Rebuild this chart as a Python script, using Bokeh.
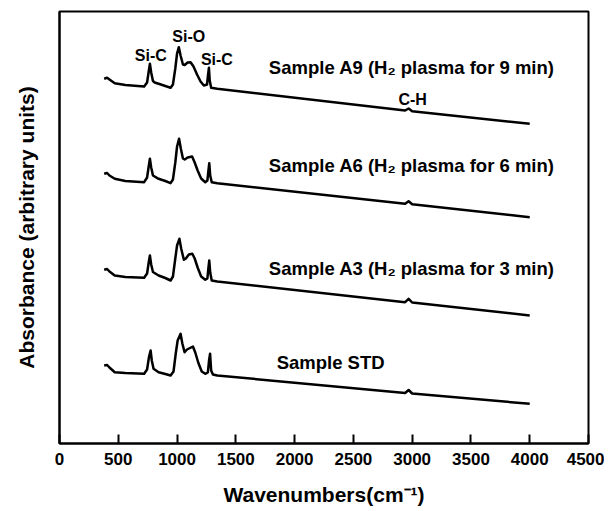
from bokeh.plotting import figure
from bokeh.models import Range1d, FixedTicker, Label
from bokeh.embed import file_html
from bokeh.resources import INLINE

# ---- data (absorbance, arbitrary units, spectra offset) ----
wn_a9 = [380, 405, 425, 470, 560, 720, 745, 760, 769, 780, 795, 810, 843, 900, 945, 965, 985, 1000,
         1015, 1030, 1050, 1065, 1090, 1115, 1140, 1170, 1200, 1228, 1255, 1264, 1271, 1278, 1290,
         1342, 2940, 2970, 3000, 4000]
abs_a9 = [3.647, 3.657, 3.64, 3.603, 3.585, 3.57, 3.61, 3.73, 3.797, 3.71, 3.625, 3.61, 3.597, 3.575,
          3.557, 3.59, 3.75, 3.90, 3.963, 3.88, 3.79, 3.785, 3.81, 3.813, 3.77, 3.69, 3.62, 3.58, 3.59,
          3.69, 3.757, 3.63, 3.557, 3.547, 3.33, 3.35, 3.323, 3.197]

wn_a6 = [380, 405, 425, 470, 560, 720, 745, 760, 769, 780, 795, 843, 900, 945, 965, 985, 1000, 1017,
         1032, 1050, 1065, 1090, 1128, 1150, 1175, 1205, 1240, 1258, 1267, 1274, 1282, 1295, 1342,
         2940, 2970, 3000, 4000]
abs_a6 = [2.697, 2.705, 2.68, 2.647, 2.625, 2.613, 2.66, 2.78, 2.847, 2.76, 2.68, 2.647, 2.625, 2.603,
          2.64, 2.81, 2.97, 3.047, 2.95, 2.85, 2.84, 2.86, 2.87, 2.81, 2.73, 2.65, 2.613, 2.63, 2.73,
          2.803, 2.68, 2.613, 2.603, 2.397, 2.423, 2.393, 2.263]

wn_a3 = [380, 405, 425, 470, 560, 720, 745, 760, 769, 780, 795, 843, 900, 945, 965, 985, 1000, 1020,
         1035, 1058, 1075, 1100, 1130, 1150, 1175, 1205, 1240, 1258, 1267, 1274, 1282, 1295, 1342,
         2940, 2970, 3000, 4000]
abs_a3 = [1.737, 1.745, 1.72, 1.68, 1.665, 1.657, 1.70, 1.82, 1.88, 1.79, 1.715, 1.68, 1.655, 1.63,
          1.67, 1.85, 1.98, 2.047, 1.95, 1.837, 1.85, 1.89, 1.897, 1.85, 1.76, 1.67, 1.637, 1.65, 1.76,
          1.83, 1.71, 1.63, 1.62, 1.413, 1.447, 1.41, 1.28]

wn_std = [380, 405, 425, 470, 560, 720, 745, 762, 775, 785, 800, 843, 900, 945, 970, 990, 1005, 1030,
          1045, 1064, 1085, 1135, 1155, 1180, 1210, 1240, 1262, 1272, 1281, 1290, 1305, 1342,
          2940, 2970, 3000, 4000]
abs_std = [0.78, 0.785, 0.76, 0.713, 0.705, 0.697, 0.74, 0.87, 0.93, 0.83, 0.747, 0.713, 0.695, 0.68,
           0.72, 0.91, 1.03, 1.097, 1.00, 0.913, 0.94, 0.97, 0.91, 0.81, 0.72, 0.697, 0.71, 0.83,
           0.897, 0.73, 0.69, 0.68, 0.505, 0.535, 0.50, 0.397]

x_ticks = [0, 500, 1000, 1500, 2000, 2500, 3000, 3500, 4000, 4500]

sample_labels = ["Sample A9 (H\u2082 plasma for 9 min)", "Sample A6 (H\u2082 plasma for 6 min)",
                 "Sample A3 (H\u2082 plasma for 3 min)", "Sample STD"]
peak_labels = ["Si-C", "Si-O", "Si-C", "C-H"]

FONT = "Liberation Sans"

p = figure(width=604, height=495, output_backend="svg", toolbar_location=None,
           x_range=Range1d(0, 4500), y_range=Range1d(0, 4.32),
           min_border_left=59, min_border_right=16, min_border_top=11, min_border_bottom=10)
p.frame_width = 529
p.frame_height = 432

p.xgrid.visible = False
p.ygrid.visible = False
p.outline_line_color = "black"
p.outline_line_width = 2
p.outline_line_alpha = 1

xa = p.xaxis[0]
xa.ticker = FixedTicker(ticks=x_ticks)
xa.minor_tick_line_color = None
xa.major_tick_in = 9
xa.major_tick_out = 0
xa.major_tick_line_width = 2
xa.axis_line_width = 2
xa.major_label_text_font = FONT
xa.major_label_text_font_style = "bold"
xa.major_label_text_font_size = "17px"
xa.major_label_text_color = "black"
xa.major_label_standoff = 9
xa.axis_label = "Wavenumbers(cm\u207b\u00b9)"
xa.axis_label_text_font = FONT
xa.axis_label_text_font_style = "bold"
xa.axis_label_text_font_size = "21px"
xa.axis_label_text_color = "black"
xa.axis_label_standoff = 15

ya = p.yaxis[0]
ya.ticker = FixedTicker(ticks=[])
ya.minor_tick_line_color = None
ya.major_tick_line_color = None
ya.axis_line_width = 2
ya.axis_label = "Absorbance (arbitrary units)"
ya.axis_label_text_font = FONT
ya.axis_label_text_font_style = "bold"
ya.axis_label_text_font_size = "21px"
ya.axis_label_text_color = "black"
ya.axis_label_standoff = 22

for xs, ys in [(wn_a9, abs_a9), (wn_a6, abs_a6), (wn_a3, abs_a3), (wn_std, abs_std)]:
    p.line(xs, ys, line_color="black", line_width=2.5, line_join="round")

# sample labels
sample_pos = [(1781, 3.763), (1781, 2.78), (1781, 1.747), (1847, 0.813)]
for txt, (x, y) in zip(sample_labels, sample_pos):
    p.add_layout(Label(x=x, y=y, text=txt, text_font=FONT, text_font_style="bold",
                       text_font_size="18.5px", text_color="black", text_baseline="alphabetic",
                       text_align="left"))

# peak labels
peak_pos = [(777, 3.88), (1100, 4.07), (1339, 3.837), (3004, 3.437)]
for txt, (x, y) in zip(peak_labels, peak_pos):
    p.add_layout(Label(x=x, y=y, text=txt, text_font=FONT, text_font_style="bold",
                       text_font_size="16px", text_color="black", text_baseline="alphabetic",
                       text_align="center"))

open("out.html", "w").write(file_html(p, INLINE))
